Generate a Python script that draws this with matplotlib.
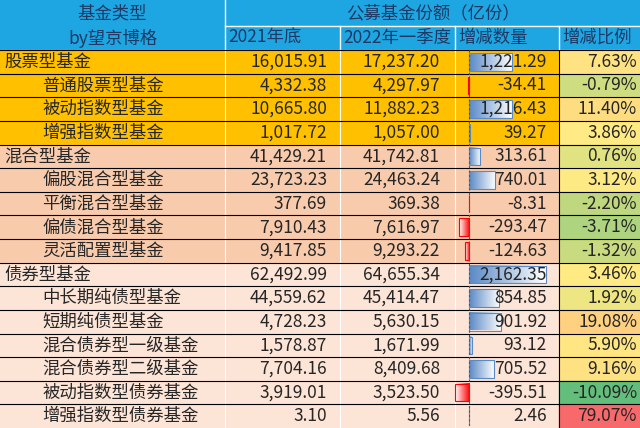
import matplotlib
matplotlib.use("Agg")
import matplotlib.pyplot as plt
import numpy as np
from matplotlib.colors import LinearSegmentedColormap

plt.rcParams['font.family'] = ['Noto Sans CJK SC', 'DejaVu Sans']

names = ["股票型基金", "普通股票型基金", "被动指数型基金", "增强指数型基金",
         "混合型基金", "偏股混合型基金", "平衡混合型基金", "偏债混合型基金", "灵活配置型基金",
         "债券型基金", "中长期纯债型基金", "短期纯债型基金", "混合债券型一级基金",
         "混合债券型二级基金", "被动指数型债券基金", "增强指数型债券基金"]
level = [0, 1, 1, 1, 0, 1, 1, 1, 1, 0, 1, 1, 1, 1, 1, 1]
group = [0, 0, 0, 0, 1, 1, 1, 1, 1, 2, 2, 2, 2, 2, 2, 2]
v2021 = [16015.91, 4332.38, 10665.80, 1017.72, 41429.21, 23723.23, 377.69, 7910.43, 9417.85,
         62492.99, 44559.62, 4728.23, 1578.87, 7704.16, 3919.01, 3.10]
v2022 = [17237.20, 4297.97, 11882.23, 1057.00, 41742.81, 24463.24, 369.38, 7616.97, 9293.22,
         64655.34, 45414.47, 5630.15, 1671.99, 8409.68, 3523.50, 5.56]
change = [1221.29, -34.41, 1216.43, 39.27, 313.61, 740.01, -8.31, -293.47, -124.63,
          2162.35, 854.85, 901.92, 93.12, 705.52, -395.51, 2.46]
pct = [7.63, -0.79, 11.40, 3.86, 0.76, 3.12, -2.20, -3.71, -1.32,
       3.46, 1.92, 19.08, 5.90, 9.16, -10.09, 79.07]

W, H = 640, 428
fig = plt.figure(figsize=(6.4, 4.28), dpi=100)
ax = fig.add_axes([0, 0, 1, 1])
ax.set_xlim(0, W); ax.set_ylim(H, 0); ax.axis('off')

cols = [0, 225, 340, 455, 559, 640]
num_right = [327, 440, 547, 637]
y0 = 50
rh = (H - y0) / len(names)
hdr_c = '#1EA6E2'
txt_hdr = '#1F3864'
grp_c = ['#FFC000', '#F8CBAD', '#FCE4D6']
fs = 12.5

ax.add_patch(plt.Rectangle((0, 0), W, y0, color=hdr_c, zorder=0))
ax.text(cols[1]/2, 13, "基金类型", ha='center', va='center', fontsize=fs, color=txt_hdr)
ax.text(cols[1]/2, 38, "by望京博格", ha='center', va='center', fontsize=fs, color=txt_hdr)
ax.text((cols[1]+cols[5])/2, 13, "公募基金份额（亿份）", ha='center', va='center', fontsize=fs, color=txt_hdr)
for i, t in enumerate(["2021年底", "2022年一季度", "增减数量", "增减比例"]):
    ax.text(cols[i+1]+3, 38, t, ha='left', va='center', fontsize=fs, color=txt_hdr)
ax.plot([cols[1], W], [26, 26], color='white', lw=1)
ax.plot([cols[1], cols[1]], [0, y0], color='white', lw=1)
for x in cols[2:5]:
    ax.plot([x, x], [26, y0], color='white', lw=1)

cmap = LinearSegmentedColormap.from_list('rg', ['#63BE7B', '#FFEB84', '#F8696B'])
pmin, pmax, pmid = min(pct), max(pct), np.percentile(pct, 50)
def pcol(v):
    if v <= pmid:
        f = 0.5 * (v - pmin) / (pmid - pmin)
    else:
        f = 0.5 + 0.5 * (v - pmid) / (pmax - pmid)
    return cmap(f)

axis_x = 469
scale = 77 / max(change)
grad = np.linspace(0, 1, 64).reshape(1, -1)
tc = '#262626'

for i, n in enumerate(names):
    top = y0 + i * rh
    yc = top + rh / 2
    ax.add_patch(plt.Rectangle((0, top), cols[4], rh, color=grp_c[group[i]], zorder=0))
    ax.add_patch(plt.Rectangle((cols[4], top), W - cols[4], rh, color=pcol(pct[i]), zorder=0))
    ax.text(4 + 38 * level[i], yc, n, ha='left', va='center', fontsize=fs, color=tc, zorder=5)
    ax.text(num_right[0], yc, f"{v2021[i]:,.2f}", ha='right', va='center', fontsize=fs, color=tc, zorder=5)
    ax.text(num_right[1], yc, f"{v2022[i]:,.2f}", ha='right', va='center', fontsize=fs, color=tc, zorder=5)
    ax.text(num_right[2], yc, f"{change[i]:,.2f}", ha='right', va='center', fontsize=fs, color=tc, zorder=5)
    ax.text(num_right[3], yc, f"{pct[i]:.2f}%", ha='right', va='center', fontsize=fs, color=tc, zorder=5)
    w = change[i] * scale
    b0, b1 = top + 3, top + rh - 3
    if w > 0:
        cm = LinearSegmentedColormap.from_list('b', ['#5A8AC6', '#FFFFFF'])
        ax.imshow(grad, extent=(axis_x, axis_x + w, b1, b0), cmap=cm, aspect='auto', zorder=2)
        ax.add_patch(plt.Rectangle((axis_x, b0), w, b1 - b0, fill=False, ec='#5A8AC6', lw=0.8, zorder=3))
    elif w < 0:
        cm = LinearSegmentedColormap.from_list('r', ['#FFFFFF', '#FF0000'])
        ax.imshow(grad, extent=(axis_x + w, axis_x, b1, b0), cmap=cm, aspect='auto', zorder=2)
        ax.add_patch(plt.Rectangle((axis_x + w, b0), -w, b1 - b0, fill=False, ec='#FF0000', lw=0.8, zorder=3))
    ax.plot([0, W], [top, top], color='black', lw=0.8, zorder=4)

ax.plot([axis_x, axis_x], [y0, H], color='#555555', lw=0.8, ls=(0, (2, 2)), zorder=4)
for x in cols[1:4]:
    ax.plot([x, x], [y0, H], color='white', lw=0.8, zorder=1)
ax.plot([cols[4], cols[4]], [y0, H], color='black', lw=0.8, zorder=4)
ax.set_xlim(0, W); ax.set_ylim(H, 0)
fig.savefig("out.png", dpi=100)
